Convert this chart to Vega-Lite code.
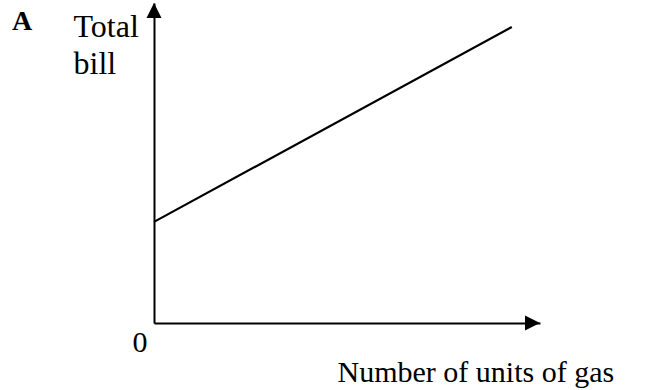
{
  "$schema": "https://vega.github.io/schema/vega-lite/v6.json",
  "width": 386,
  "height": 320,
  "autosize": {"type": "none"},
  "padding": {"left": 154, "top": 3, "right": 106, "bottom": 67},
  "background": "white",
  "config": {"view": {"stroke": null}},
  "datasets": {
    "bill": [{"units": 0, "bill": 31.6}, {"units": 92.7, "bill": 92.5}],
    "xarrow": [{"units": 100, "bill": 0}],
    "yarrow": [{"units": 0, "bill": 100}],
    "origin": [{"units": 0, "bill": 0, "label": "0"}],
    "panel": [{"units": 0, "bill": 100, "label": "A"}]
  },
  "encoding": {
    "x": {
      "field": "units", "type": "quantitative",
      "scale": {"domain": [0, 100], "nice": false, "zero": true},
      "axis": {
        "domain": true, "domainColor": "black", "domainWidth": 2,
        "ticks": false, "labels": false, "grid": false,
        "title": "Number of units of gas",
        "titleFont": "Liberation Serif", "titleFontSize": 30, "titleFontWeight": "normal",
        "titleColor": "black", "titleAlign": "left", "titleBaseline": "alphabetic",
        "titleX": 183, "titleY": 58
      }
    },
    "y": {
      "field": "bill", "type": "quantitative",
      "scale": {"domain": [0, 100], "nice": false, "zero": true},
      "axis": {
        "domain": true, "domainColor": "black", "domainWidth": 2,
        "ticks": false, "labels": false, "grid": false,
        "title": ["Total", "bill"],
        "titleFont": "Liberation Serif", "titleFontSize": 32, "titleFontWeight": "normal",
        "titleColor": "black", "titleAngle": 0, "titleAlign": "left", "titleBaseline": "alphabetic",
        "titleX": -81, "titleY": 33, "titleLineHeight": 37
      }
    }
  },
  "layer": [
    {
      "data": {"name": "bill"},
      "mark": {"type": "line", "color": "black", "strokeWidth": 2.2}
    },
    {
      "data": {"name": "xarrow"},
      "mark": {"type": "point", "shape": "M0,0L-1,-0.5L-1,0.5Z", "size": 900, "filled": true, "color": "black", "opacity": 1, "strokeWidth": 0}
    },
    {
      "data": {"name": "yarrow"},
      "mark": {"type": "point", "shape": "M0,0L-0.5,1L0.5,1Z", "size": 900, "filled": true, "color": "black", "opacity": 1, "strokeWidth": 0}
    },
    {
      "data": {"name": "origin"},
      "mark": {"type": "text", "font": "Liberation Serif", "fontSize": 30, "color": "black", "align": "center", "baseline": "alphabetic", "dx": -14, "dy": 29},
      "encoding": {"text": {"field": "label"}}
    },
    {
      "data": {"name": "panel"},
      "mark": {"type": "text", "font": "Liberation Serif", "fontSize": 28, "fontWeight": "bold", "color": "black", "align": "left", "baseline": "alphabetic", "dx": -142, "dy": 27},
      "encoding": {"text": {"field": "label"}}
    }
  ]
}
